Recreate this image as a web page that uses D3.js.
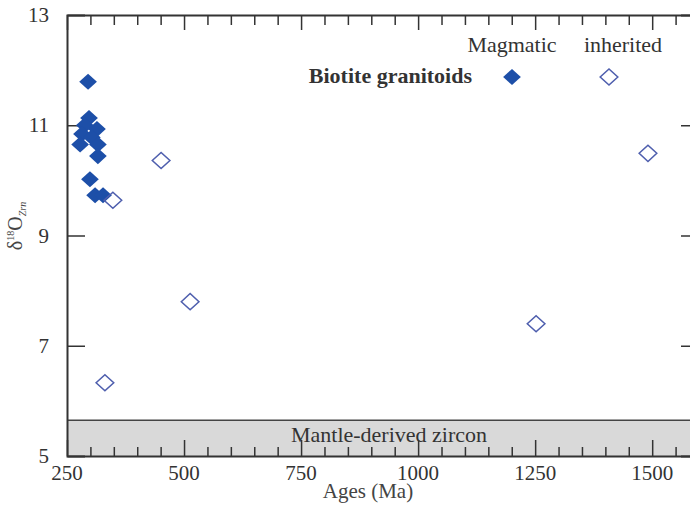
<!DOCTYPE html>
<html>
<head>
<meta charset="utf-8">
<script src="https://cdn.jsdelivr.net/npm/d3@7"></script>
<style>
  body { margin: 0; background: #fff; }
  svg { font-family: "Liberation Serif", "DejaVu Serif", serif; }
</style>
</head>
<body>
<div id="chart"></div>
<script>
// magmatic zircons (filled)
const magmaticAges = [295, 297, 288, 314, 282, 303, 278, 316, 316, 299, 310, 327];
const magmaticD18O = [11.79, 11.13, 11.0, 10.93, 10.84, 10.78, 10.65, 10.65, 10.44, 10.02, 9.73, 9.73];

// inherited zircons (open)
const inheritedAges = [331, 348, 451, 513, 1252, 1491];
const inheritedD18O = [6.33, 9.64, 10.36, 7.8, 7.4, 10.49];

const xTicks = [250, 500, 750, 1000, 1250, 1500];
const yTicks = [5, 7, 9, 11, 13];
const mantleTop = 5.65;

const width = 690;
const height = 506;

const x = d3.scaleLinear().domain([250, 1600]).range([67, 699]);
const y = d3.scaleLinear().domain([5, 13]).range([456, 15]);

const svg = d3.select('#chart')
  .append('svg')
  .attr('width', width)
  .attr('height', height);

// mantle band
svg.append('rect')
  .attr('x', x(250))
  .attr('y', y(mantleTop))
  .attr('width', x(1600) - x(250))
  .attr('height', y(5) - y(mantleTop))
  .attr('fill', '#d9d9d9');
svg.append('line')
  .attr('x1', x(250)).attr('x2', x(1600))
  .attr('y1', y(mantleTop)).attr('y2', y(mantleTop))
  .attr('stroke', '#444').attr('stroke-width', 1.5);
svg.append('text')
  .attr('x', 389)
  .attr('y', 442)
  .attr('text-anchor', 'middle')
  .attr('font-size', 22)
  .attr('fill', '#333')
  .text('Mantle-derived zircon');

// axes: ticks point inward
const minor = d3.range(250, 1601, 50);
const gBottom = svg.append('g').attr('transform', `translate(0,${y(5)})`)
  .call(d3.axisTop(x).tickValues(minor).tickSize(0).tickFormat(''));
const gTop = svg.append('g').attr('transform', `translate(0,${y(13)})`)
  .call(d3.axisBottom(x).tickValues(minor).tickSize(0).tickFormat(''));
gBottom.selectAll('.tick line').attr('y2', d => d % 250 === 0 ? -16 : -9);
gTop.selectAll('.tick line').attr('y2', d => d % 250 === 0 ? 15 : 10);

svg.append('g').attr('transform', `translate(${x(250)},0)`)
  .call(d3.axisRight(y).tickValues([7, 9, 11]).tickSize(18).tickFormat(''));
svg.append('g').attr('transform', `translate(${x(1600)},0)`)
  .call(d3.axisLeft(y).tickValues([7, 9, 11]).tickSize(18).tickFormat(''));

svg.selectAll('.domain').attr('stroke', '#333').attr('stroke-width', 2);
svg.selectAll('.tick line').attr('stroke', '#333').attr('stroke-width', 1.5);

// tick labels
svg.append('g').selectAll('text')
  .data(xTicks).enter().append('text')
  .attr('x', d => x(d))
  .attr('y', 480)
  .attr('text-anchor', 'middle')
  .attr('font-size', 21)
  .attr('fill', '#333')
  .text(d => d);

svg.append('g').selectAll('text')
  .data(yTicks).enter().append('text')
  .attr('x', 49)
  .attr('y', d => y(d) + 7)
  .attr('text-anchor', 'end')
  .attr('font-size', 21)
  .attr('fill', '#333')
  .text(d => d);

// axis titles
svg.append('text')
  .attr('x', 368)
  .attr('y', 498)
  .attr('text-anchor', 'middle')
  .attr('font-size', 21)
  .attr('fill', '#444')
  .text('Ages (Ma)');

const yTitle = svg.append('text')
  .attr('transform', 'translate(22,226) rotate(-90)')
  .attr('text-anchor', 'middle')
  .attr('font-size', 20)
  .attr('fill', '#444');
yTitle.append('tspan').text('δ');
yTitle.append('tspan').attr('font-size', 10).attr('dy', -8).text('18');
yTitle.append('tspan').attr('dy', 8).text('O');
yTitle.append('tspan').attr('font-size', 10).attr('font-style', 'italic').attr('dy', 4).text('Zrn');

// points
const diamond = d3.symbol().type(d3.symbolDiamond2).size(165);

svg.append('g').selectAll('path')
  .data(magmaticAges.map((a, i) => [a, magmaticD18O[i]]))
  .enter().append('path')
  .attr('d', diamond())
  .attr('transform', d => `translate(${x(d[0])},${y(d[1])}) scale(1.1,1)`)
  .attr('fill', '#1d4fa8');

svg.append('g').selectAll('path')
  .data(inheritedAges.map((a, i) => [a, inheritedD18O[i]]))
  .enter().append('path')
  .attr('d', diamond())
  .attr('transform', d => `translate(${x(d[0])},${y(d[1])}) scale(1.1,1)`)
  .attr('fill', 'none')
  .attr('stroke', '#4f5fae')
  .attr('stroke-width', 1.4);

// legend
svg.append('text').attr('x', 512).attr('y', 52).attr('text-anchor', 'middle')
  .attr('font-size', 22).attr('fill', '#333').text('Magmatic');
svg.append('text').attr('x', 623).attr('y', 52).attr('text-anchor', 'middle')
  .attr('font-size', 22).attr('fill', '#333').text('inherited');
svg.append('text').attr('x', 472).attr('y', 83).attr('text-anchor', 'end')
  .attr('font-size', 22).attr('font-weight', 'bold').attr('fill', '#333').text('Biotite granitoids');
svg.append('path').attr('d', diamond())
  .attr('transform', 'translate(512,77) scale(1.1,1)').attr('fill', '#1d4fa8');
svg.append('path').attr('d', diamond())
  .attr('transform', 'translate(609,77) scale(1.1,1)').attr('fill', 'none')
  .attr('stroke', '#4f5fae').attr('stroke-width', 1.4);
</script>
</body>
</html>
